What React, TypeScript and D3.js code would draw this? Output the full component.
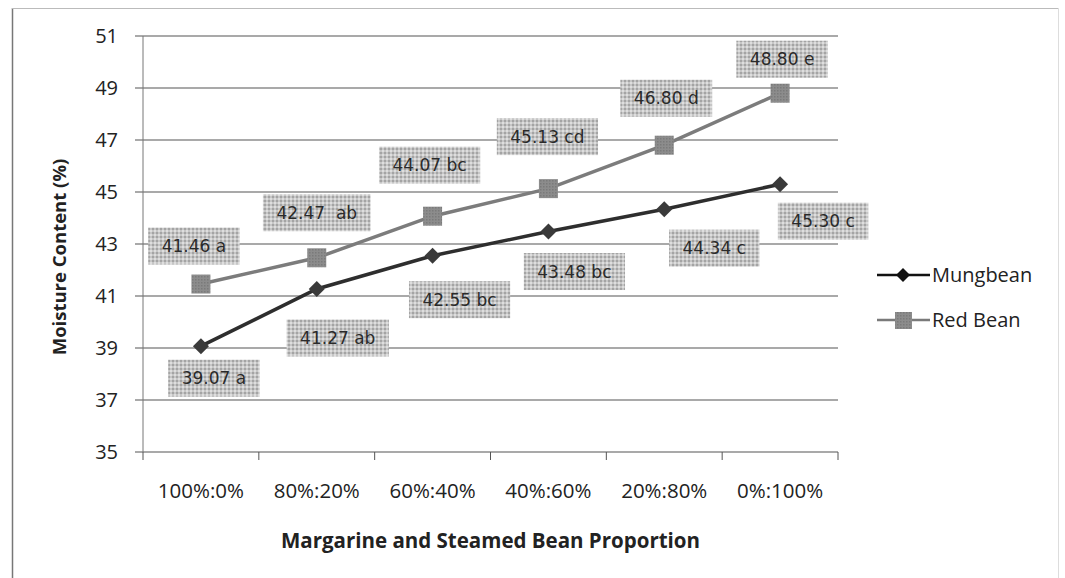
import React from "react";
import * as d3 from "d3";

const categories = ["100%:0%", "80%:20%", "60%:40%", "40%:60%", "20%:80%", "0%:100%"];
const mungbean = [39.07, 41.27, 42.55, 43.48, 44.34, 45.3];
const redBean = [41.46, 42.47, 44.07, 45.13, 46.8, 48.8];
const mungLabels = ["39.07 a", "41.27 ab", "42.55 bc", "43.48 bc", "44.34 c", "45.30 c"];
const redLabels = ["41.46 a", "42.47  ab", "44.07 bc", "45.13 cd", "46.80 d", "48.80 e"];
const yTicks = [35, 37, 39, 41, 43, 45, 47, 49, 51];

// label placement offsets (layout)
const mungOff: [number, number][] = [[13, 32], [21, 49], [27, 44], [26, 40], [50, 39], [43, 37]];
const redOff: [number, number][] = [[-7, -38], [0, -45], [-3, -51], [-1, -52], [2, -47], [2, -34]];

const W = 1065, H = 578;
const L = 143, R = 838, T = 36, B = 452;
const FONT = "'Open Sans', 'Noto Sans', sans-serif";
const LFONT = "'DejaVu Sans', Verdana, sans-serif";

const cw: Record<string, number> = { ".": 0.318, " ": 0.318, a: 0.613, b: 0.635, c: 0.55, d: 0.635, e: 0.615 };
const textW = (s: string, fs: number) => s.split("").reduce((acc, ch) => acc + (cw[ch] ?? 0.636), 0) * fs;

export default function App() {
  const x = d3.scaleBand<string>().domain(categories).range([L, R]);
  const cx = (c: string) => (x(c) as number) + x.bandwidth() / 2;
  const y = d3.scaleLinear().domain([35, 51]).range([B, T]);
  const line = d3.line<number>().x((_, i) => cx(categories[i])).y((d) => y(d));

  const LFS = 17;
  const label = (txt: string, px: number, py: number, key: string) => {
    const w = textW(txt, LFS) + 27;
    const h = 37;
    return (
      <g key={key}>
        <rect x={px - w / 2} y={py - h / 2} width={w} height={h} fill="url(#hatch)" />
        <text x={px} y={py + 6} textAnchor="middle" fontSize={LFS} fill="#2a2a2a" fontFamily={LFONT} style={{ whiteSpace: "pre" }}>
          {txt}
        </text>
      </g>
    );
  };

  const diamond = (px: number, py: number, s: number, key: string, fill: string) => (
    <path key={key} d={`M${px},${py - s}L${px + s},${py}L${px},${py + s}L${px - s},${py}Z`} fill={fill} />
  );

  return (
    <svg width={W} height={H} style={{ position: "absolute", left: 0, top: 0, background: "#fff" }}>
      <defs>
        <pattern id="hatch" width="4" height="4" patternUnits="userSpaceOnUse">
          <rect width="4" height="4" fill="#c6c6c6" />
          <rect width="2" height="2" fill="#a4a4a4" />
          <rect x="2" y="2" width="2" height="2" fill="#dedede" />
        </pattern>
        <pattern id="sq" width="3" height="3" patternUnits="userSpaceOnUse">
          <rect width="3" height="3" fill="#8c8c8c" />
          <rect width="1.5" height="1.5" fill="#7a7a7a" />
        </pattern>
      </defs>
      {/* frame */}
      <line x1={12.5} y1={8} x2={12.5} y2={H} stroke="#777" strokeWidth={1.5} />
      <line x1={12} y1={8.5} x2={1058} y2={8.5} stroke="#bbb" strokeWidth={1} />
      <line x1={1058.5} y1={8} x2={1058.5} y2={H} stroke="#ddd" strokeWidth={1} />

      {/* gridlines */}
      {yTicks.map((t) => (
        <g key={t}>
          <line x1={L - 8} x2={R} y1={y(t)} y2={y(t)} stroke="#555" strokeWidth={1.2} />
          <text x={118} y={y(t) + 7} textAnchor="end" fontSize={20} fill="#222" fontFamily={FONT}>
            {t}
          </text>
        </g>
      ))}
      {/* y axis */}
      <line x1={L} x2={L} y1={T} y2={B} stroke="#777" strokeWidth={1} />
      {/* x ticks */}
      {categories.map((c, i) => (
        <line key={"xt" + i} x1={(x(c) as number)} x2={(x(c) as number)} y1={B} y2={B + 8} stroke="#555" strokeWidth={1} />
      ))}
      <line x1={R} x2={R} y1={B} y2={B + 8} stroke="#555" strokeWidth={1} />
      {categories.map((c) => (
        <text key={c} x={cx(c)} y={498} textAnchor="middle" fontSize={20.5} fill="#222" fontFamily={FONT}>
          {c}
        </text>
      ))}
      <text x={(L + R) / 2} y={548} textAnchor="middle" fontSize={20.5} fontWeight="bold" fill="#222" fontFamily={FONT}>
        Margarine and Steamed Bean Proportion
      </text>
      <text transform={`translate(66,257) rotate(-90)`} textAnchor="middle" fontSize={18.5} fontWeight="bold" fill="#222" fontFamily={FONT}>
        Moisture Content (%)
      </text>

      {/* labels */}
      {redBean.map((v, i) => label(redLabels[i], cx(categories[i]) + redOff[i][0], y(v) + redOff[i][1], "rl" + i))}
      {mungbean.map((v, i) => label(mungLabels[i], cx(categories[i]) + mungOff[i][0], y(v) + mungOff[i][1], "ml" + i))}

      {/* lines */}
      <path d={line(redBean) || ""} fill="none" stroke="#7c7c7c" strokeWidth={3.5} />
      <path d={line(mungbean) || ""} fill="none" stroke="#2e2e2e" strokeWidth={3.5} />
      {redBean.map((v, i) => (
        <rect key={"rs" + i} x={cx(categories[i]) - 9.5} y={y(v) - 9.5} width={19} height={19} fill="url(#sq)" />
      ))}
      {mungbean.map((v, i) => diamond(cx(categories[i]), y(v), 8, "md" + i, "#3a3a3a"))}

      {/* legend */}
      <line x1={877} x2={930} y1={275} y2={275} stroke="#111" strokeWidth={2.5} />
      {diamond(903, 275, 7, "lgd", "#111")}
      <text x={932} y={282} fontSize={20} fill="#222" fontFamily={FONT}>Mungbean</text>
      <line x1={877} x2={930} y1={320} y2={320} stroke="#7a7a7a" strokeWidth={2.5} />
      <rect x={895} y={312} width={17} height={17} fill="url(#sq)" />
      <text x={932} y={327} fontSize={20} fill="#222" fontFamily={FONT}>Red Bean</text>
    </svg>
  );
}
